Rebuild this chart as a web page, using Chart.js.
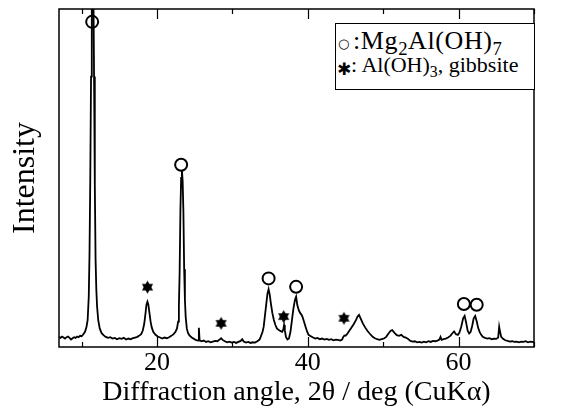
<!DOCTYPE html>
<html>
<head>
<meta charset="utf-8">
<script src="https://cdn.jsdelivr.net/npm/chart.js@4.4.1/dist/chart.umd.min.js"></script>
<style>
  body { margin: 0; background: #fff; }
  #wrap { position: relative; width: 566px; height: 417px; }
  #key {
    position: absolute; left: 335px; top: 23px; width: 200px; height: 67px;
    box-sizing: border-box; border: 1px solid #000; background: #fff;
    font-family: 'Liberation Serif', serif; font-size: 22px; color: #000;
  }
  #key .row { position: absolute; white-space: nowrap; }
  #key .sym { position: absolute; line-height: 22px; }
  #key sub { font-size: 0.72em; vertical-align: baseline; position: relative; top: 0.3em; }
</style>
</head>
<body>
<div id="wrap">
  <canvas id="xrdChart" width="566" height="417"></canvas>
  <div id="key">
    <span class="sym" style="left:2px;top:9px;font-family:'DejaVu Sans';font-size:13px;">○</span>
    <span class="row" style="left:17px;top:4px;font-size:26px;line-height:26px;letter-spacing:0.6px;">:Mg<sub>2</sub>Al(OH)<sub>7</sub></span>
    <span class="sym" style="left:1px;top:34px;font-family:'DejaVu Sans';font-size:17px;">✱</span>
    <span class="row" style="left:15px;top:30px;line-height:22px;">: Al(OH)<sub>3</sub>, gibbsite</span>
  </div>
</div>
<script>
// XRD pattern (2theta in deg, intensity in arbitrary units 0..1000)
const angle = [
  7.0, 7.2, 7.4, 7.6, 7.8, 8.0, 8.2, 8.4, 8.6, 8.8, 9.0, 9.2, 9.4, 9.6, 9.8, 10.0, 10.2, 10.45, 10.65, 10.8,
  10.95, 11.05, 11.15, 11.25, 11.35, 11.45, 11.55, 11.65, 11.75, 11.85, 11.95, 12.05, 12.2, 12.4, 12.65, 12.9, 13.2, 13.5, 13.8, 14.1,
  14.4, 14.7, 15.0, 15.3, 15.6, 15.9, 16.2, 16.5, 16.8, 17.1, 17.4, 17.6, 17.9, 18.1, 18.3, 18.45, 18.6, 18.73, 18.85, 19.0,
  19.15, 19.3, 19.5, 19.8, 20.1, 20.4, 20.7, 21.0, 21.3, 21.6, 21.9, 22.2, 22.45, 22.65, 22.8, 22.9, 23.0, 23.1, 23.2, 23.3,
  23.4, 23.5, 23.6, 23.7, 23.8, 23.95, 24.1, 24.3, 24.6, 24.9, 25.2, 25.45, 25.55, 25.65, 25.9, 26.2, 26.5, 26.8, 27.1, 27.4,
  27.7, 28.0, 28.3, 28.5, 28.7, 29.0, 29.3, 29.6, 29.9, 30.2, 30.5, 30.8, 31.1, 31.3, 31.5, 31.8, 32.1, 32.4, 32.7, 33.0,
  33.3, 33.6, 33.75, 34.0, 34.15, 34.3, 34.5, 34.65, 34.8, 34.95, 35.1, 35.3, 35.5, 35.7, 35.9, 36.15, 36.4, 36.6, 36.75, 36.85,
  36.95, 37.1, 37.3, 37.5, 37.7, 37.9, 38.1, 38.3, 38.45, 38.6, 38.8, 39.0, 39.15, 39.3, 39.5, 39.7, 39.9, 40.1, 40.4, 40.7,
  41.0, 41.3, 41.6, 41.9, 42.2, 42.5, 42.8, 43.1, 43.4, 43.7, 44.0, 44.3, 44.55, 44.7, 44.85, 45.0, 45.2, 45.5, 45.8, 46.1,
  46.4, 46.6, 46.8, 47.0, 47.3, 47.6, 47.9, 48.2, 48.6, 48.9, 49.2, 49.5, 49.8, 50.1, 50.4, 50.7, 51.0, 51.2, 51.5, 51.8,
  52.1, 52.4, 52.7, 53.0, 53.3, 53.6, 53.9, 54.2, 54.5, 54.8, 55.1, 55.4, 55.7, 56.0, 56.3, 56.6, 56.9, 57.2, 57.45, 57.6,
  57.75, 58.0, 58.3, 58.6, 58.9, 59.15, 59.4, 59.65, 59.9, 60.1, 60.35, 60.6, 60.8, 61.0, 61.2, 61.4, 61.6, 61.8, 62.0, 62.2,
  62.4, 62.6, 62.8, 63.0, 63.2, 63.5, 63.8, 64.1, 64.4, 64.7, 65.0, 65.25, 65.38, 65.5, 65.65, 65.9, 66.2, 66.5, 66.8, 67.1,
  67.4, 67.7, 68.0, 68.3, 68.6, 68.9, 69.2, 69.5, 69.8, 70.0
];
const intensity = [
  30, 27, 31, 28, 25, 29, 31, 27, 22, 26, 29, 27, 31, 29, 33, 32, 37, 45, 60, 80,
  150, 280, 500, 800, 1100, 1300, 1100, 800, 480, 260, 170, 120, 80, 55, 41, 35, 30, 27, 29, 25,
  27, 23, 26, 24, 27, 22, 25, 23, 26, 28, 30, 33, 38, 48, 68, 95, 125, 134, 125, 100,
  75, 58, 45, 36, 31, 28, 25, 28, 26, 29, 33, 38, 45, 55, 75, 120, 220, 400, 500, 524,
  490, 400, 230, 140, 90, 55, 42, 34, 28, 24, 20, 19, 57, 20, 17, 19, 15, 17, 14, 16,
  18, 17, 22, 26, 21, 17, 14, 16, 13, 15, 12, 15, 18, 23, 16, 13, 15, 12, 14, 13,
  17, 22, 30, 45, 60, 90, 129, 158, 171, 155, 129, 100, 80, 65, 55, 50, 47, 45, 52, 65,
  50, 30, 22, 25, 45, 80, 115, 140, 149, 125, 109, 100, 96, 89, 75, 60, 46, 36, 32, 28,
  25, 27, 23, 25, 22, 24, 21, 23, 20, 22, 21, 19, 22, 30, 34, 33, 38, 48, 58, 68,
  80, 90, 95, 85, 70, 58, 48, 40, 30, 26, 23, 21, 23, 25, 30, 40, 48, 50, 42, 35,
  33, 36, 30, 28, 24, 18, 16, 17, 14, 15, 13, 16, 14, 17, 15, 18, 17, 19, 22, 30,
  21, 23, 25, 28, 33, 40, 46, 38, 36, 42, 60, 85, 92, 72, 48, 40, 45, 62, 85, 92,
  76, 56, 44, 36, 30, 27, 25, 26, 23, 25, 24, 28, 60, 45, 30, 24, 20, 18, 16, 17,
  15, 16, 14, 16, 15, 17, 14, 16, 15, 14
];

// phase markers
const hydroxideAngle = [11.4, 23.2, 34.8, 38.45, 60.7, 62.4];
const hydroxideLevel = [962, 539, 203, 178, 127, 125];
const gibbsiteAngle = [18.73, 28.5, 36.8, 44.8];
const gibbsiteLevel = [177, 70, 90, 85];

// x ticks: every 10 deg, labelled at 20/40/60
const tickSpots = [10, 20, 30, 40, 50, 60, 70];
const xLabels = [20, 40, 60];

const serif = 'Liberation Serif';

function makeStar(r) {
    const c = document.createElement('canvas');
    const s = Math.ceil(r * 2 + 2);
    c.width = c.height = s;
    const g = c.getContext('2d');
    g.fillStyle = '#000';
    for (const rot of [-Math.PI / 2, Math.PI / 2]) {
        g.beginPath();
        for (let i = 0; i < 3; i++) {
            const a = rot + i * 2 * Math.PI / 3;
            const px = s / 2 + r * Math.cos(a), py = s / 2 + r * Math.sin(a);
            if (i === 0) g.moveTo(px, py); else g.lineTo(px, py);
        }
        g.closePath();
        g.fill();
    }
    return c;
}

// frame around the plot plus inward ticks top and bottom
const frame = {
    id: 'frame',
    afterDraw(chart) {
        const { ctx, chartArea: a, scales: { x } } = chart;
        ctx.save();
        ctx.strokeStyle = '#000';
        ctx.lineWidth = 1.5;
        ctx.strokeRect(a.left, a.top, a.right - a.left, a.bottom - a.top);
        ctx.lineWidth = 1.2;
        x.ticks.forEach(t => {
            const px = Math.round(x.getPixelForValue(t.value)) + 0.5;
            const len = xLabels.includes(t.value) ? 10 : 5;
            ctx.beginPath();
            ctx.moveTo(px, a.bottom);
            ctx.lineTo(px, a.bottom - len);
            ctx.moveTo(px, a.top);
            ctx.lineTo(px, a.top + len);
            ctx.stroke();
        });
        ctx.restore();
    }
};

const ctx = document.getElementById('xrdChart').getContext('2d');
new Chart(ctx, {
    type: 'scatter',
    data: {
        datasets: [
            {
                data: angle.map((v, i) => ({ x: v, y: intensity[i] })),
                showLine: true,
                borderColor: '#000',
                borderWidth: 1.8,
                pointRadius: 0,
                tension: 0
            },
            {
                data: hydroxideAngle.map((v, i) => ({ x: v, y: hydroxideLevel[i] })),
                pointStyle: 'circle',
                pointRadius: 6,
                borderWidth: 2,
                borderColor: '#000',
                backgroundColor: 'rgba(0,0,0,0)',
                clip: false
            },
            {
                data: gibbsiteAngle.map((v, i) => ({ x: v, y: gibbsiteLevel[i] })),
                pointStyle: makeStar(6.5),
                pointRadius: 7,
                clip: false
            }
        ]
    },
    options: {
        responsive: false,
        animation: false,
        layout: { padding: { top: 9, right: 32, left: 0, bottom: 0 } },
        plugins: {
            legend: { display: false },
            tooltip: { enabled: false }
        },
        scales: {
            x: {
                type: 'linear',
                min: 7,
                max: 70,
                grid: { display: false, drawTicks: false },
                border: { display: false },
                afterBuildTicks: s => { s.ticks = tickSpots.map(v => ({ value: v })); },
                ticks: {
                    autoSkip: false,
                    maxRotation: 0,
                    padding: 1,
                    color: '#000',
                    font: { family: serif, size: 26 },
                    callback: v => xLabels.includes(v) ? String(v) : ''
                },
                title: {
                    display: true,
                    text: 'Diffraction angle, 2θ / deg (CuKα)',
                    color: '#000',
                    font: { family: serif, size: 28 },
                    padding: { top: 0, bottom: 8 }
                },
                afterFit: s => { s.height = 70; }
            },
            y: {
                min: 0,
                max: 1000,
                grid: { display: false, drawTicks: false },
                border: { display: false },
                ticks: { display: false },
                title: {
                    display: true,
                    text: 'Intensity',
                    color: '#000',
                    font: { family: serif, size: 32 },
                    padding: { top: 6, bottom: 0 }
                },
                afterFit: s => { s.width = 59; }
            }
        }
    },
    plugins: [frame]
});
</script>
</body>
</html>
